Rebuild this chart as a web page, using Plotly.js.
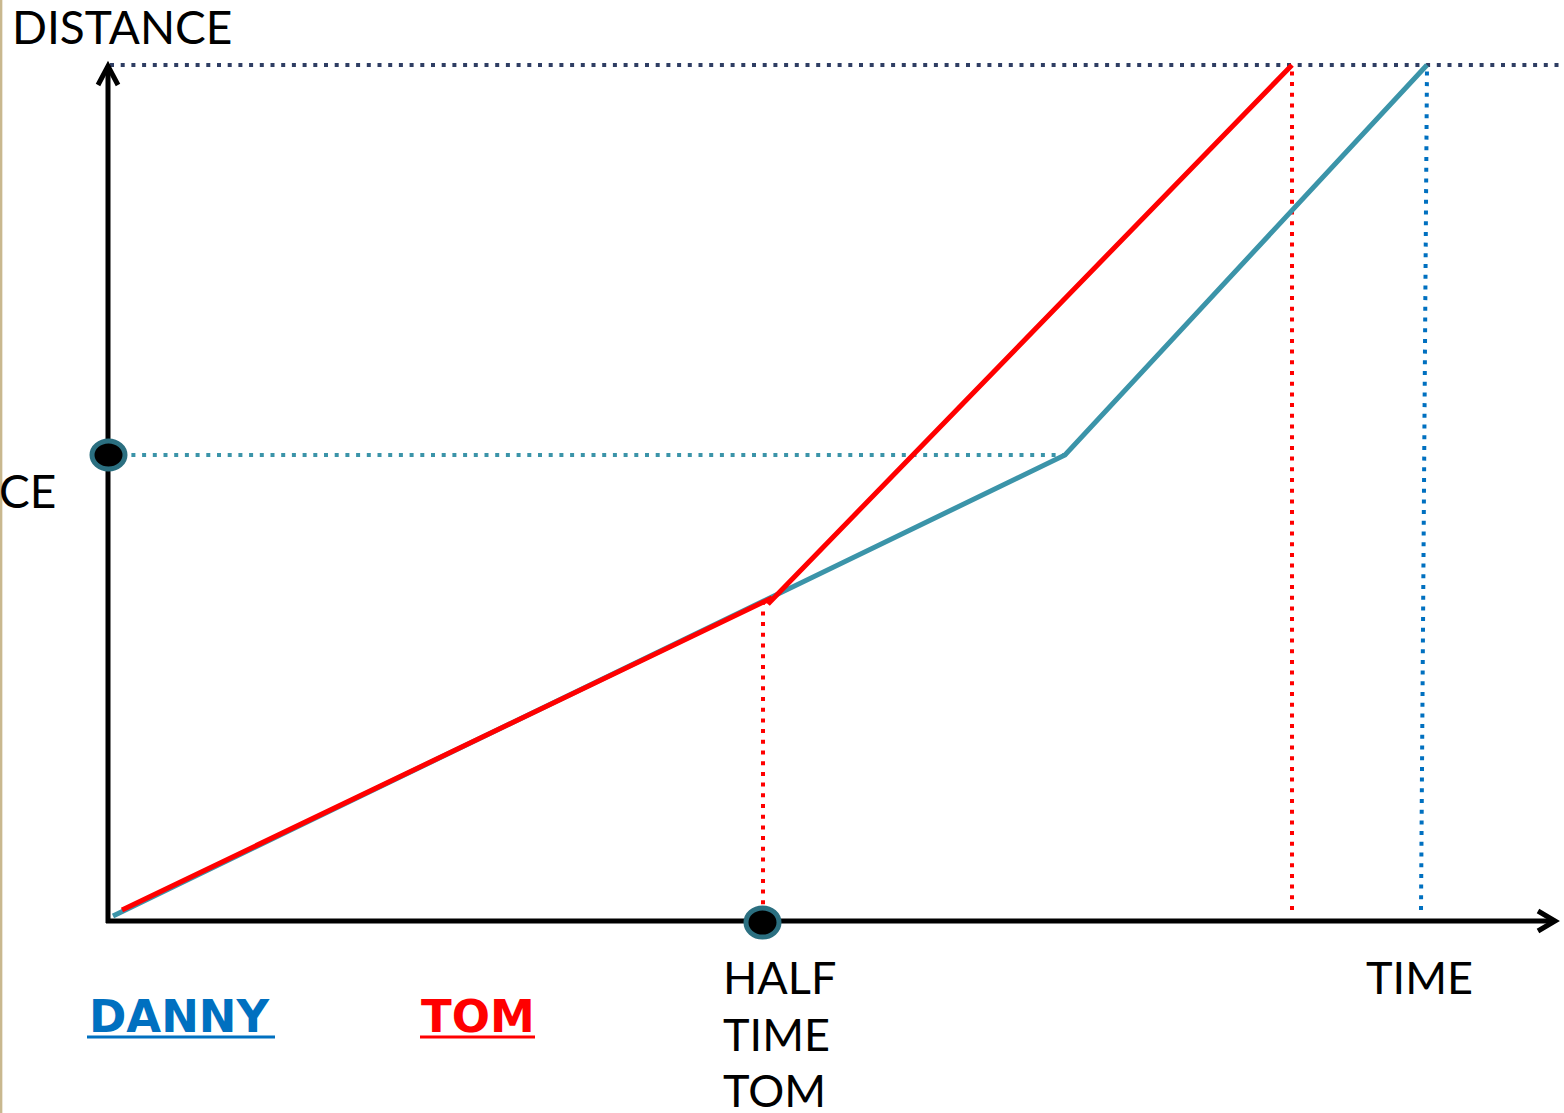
<!DOCTYPE html>
<html><head><meta charset="utf-8">
<script src="https://cdn.plot.ly/plotly-3.0.1.min.js"></script>
<style>html,body{margin:0;padding:0;background:#fff;}#chart{width:1564px;height:1113px;}</style>
</head><body><div id="chart"></div>
<script>
// Data (time / distance units; origin at the axes corner)
const dannyTime = [5, 662, 957, 1319];
const dannyDist = [5, 323, 466, 856];
const tomTime = [14, 664, 660, 1184];
const tomDist = [11, 323, 317, 856];
const finishDist = 856;       // total distance (top dotted line)
const halfDist = 466;          // half distance for Danny
const halfTimeTom = 655;       // half time for Tom
const tomFinish = 1184;
const dannyFinishTop = 1319, dannyFinishBottom = 1313;
const halfTimeLines = ['HALF', 'TIME', 'TOM'];
const labels = {yaxis: 'DISTANCE', yPartial: 'CE', xaxis: 'TIME', danny: 'DANNY', tom: 'TOM'};

const TEAL = '#3b94a9', RED = '#ff0000', NAVY = '#2f3e63', BLUE = '#0070c0';
const FONT = 'Lato, "Open Sans", sans-serif';
const BFONT = '"DejaVu Sans", Lato, sans-serif';
const dotDash = '4px,6.7px';

const traces = [
  {x: [2, 1456], y: [finishDist, finishDist], mode: 'lines', line: {color: NAVY, width: 4, dash: dotDash}},
  {x: [2, dannyTime[2]], y: [halfDist, halfDist], mode: 'lines', line: {color: TEAL, width: 4, dash: dotDash}},
  {x: [halfTimeTom, halfTimeTom], y: [6, tomDist[1]], mode: 'lines', line: {color: RED, width: 4, dash: dotDash}},
  {x: [tomFinish, tomFinish], y: [11, finishDist], mode: 'lines', line: {color: RED, width: 4, dash: dotDash}},
  {x: [dannyFinishBottom, dannyFinishTop], y: [11, finishDist], mode: 'lines', line: {color: BLUE, width: 4, dash: dotDash}},
  {x: dannyTime, y: dannyDist, mode: 'lines', line: {color: TEAL, width: 5}},
  {x: tomTime, y: tomDist, mode: 'lines', line: {color: RED, width: 5}}
];

const shapes = [
  {type: 'rect', xref: 'paper', yref: 'paper', x0: 0, x1: 0.0015, y0: 0, y1: 1, fillcolor: '#c9b88f', line: {width: 0}},
  {type: 'line', x0: 0, y0: -2, x1: 0, y1: 855, line: {color: '#000', width: 5}},
  {type: 'line', x0: -2, y0: 0, x1: 1447, y1: 0, line: {color: '#000', width: 5}},
  {type: 'path', path: 'M -10,836 L 0,855 L 10,836', line: {color: '#000', width: 5}},
  {type: 'path', path: 'M 1430,10 L 1447,0 L 1430,-10', line: {color: '#000', width: 5}},
  {type: 'circle', x0: -16, x1: 17, y0: 452, y1: 480, fillcolor: '#000', line: {color: '#2b6f80', width: 5}},
  {type: 'circle', x0: 638, x1: 671, y0: -16, y1: 13, fillcolor: '#000', line: {color: '#2b6f80', width: 5}},
  {type: 'line', x0: -21, x1: 167, y0: -116, y1: -116, line: {color: BLUE, width: 3}},
  {type: 'line', x0: 312, x1: 427, y0: -116, y1: -116, line: {color: RED, width: 3}}
];

const ann = (text, x, y, opts) => Object.assign({text, x, y, xref: 'x', yref: 'y', showarrow: false, xanchor: 'left', yanchor: 'middle', font: {family: FONT, size: 46, color: '#000'}}, opts || {});

const annotations = [
  ann(labels.yaxis, -98, 895),
  ann(labels.yPartial, 0, 431, {xref: 'paper', xshift: -3}),
  ann(labels.xaxis, 1256, -56, {font: {family: FONT, size: 45, color: '#000'}}),
  ann('<b>' + labels.danny + '</b>', -21, -95, {font: {family: BFONT, size: 45, color: BLUE}}),
  ann('<b>' + labels.tom + '</b>', 311, -95, {font: {family: BFONT, size: 45, color: RED}})
];
const halfY = [-56, -113, -169];
halfTimeLines.forEach((t, i) => annotations.push(ann(t, 613, halfY[i], {font: {family: FONT, size: 45, color: '#000'}})));

const layout = {
  width: 1564, height: 1113,
  margin: {l: 0, r: 0, t: 0, b: 0},
  paper_bgcolor: '#fff', plot_bgcolor: '#fff',
  showlegend: false,
  xaxis: {range: [-108, 1456], visible: false, fixedrange: true},
  yaxis: {range: [-192, 921], visible: false, fixedrange: true},
  shapes, annotations
};
Plotly.newPlot('chart', traces, layout, {displayModeBar: false, staticPlot: true});
</script>
</body></html>
